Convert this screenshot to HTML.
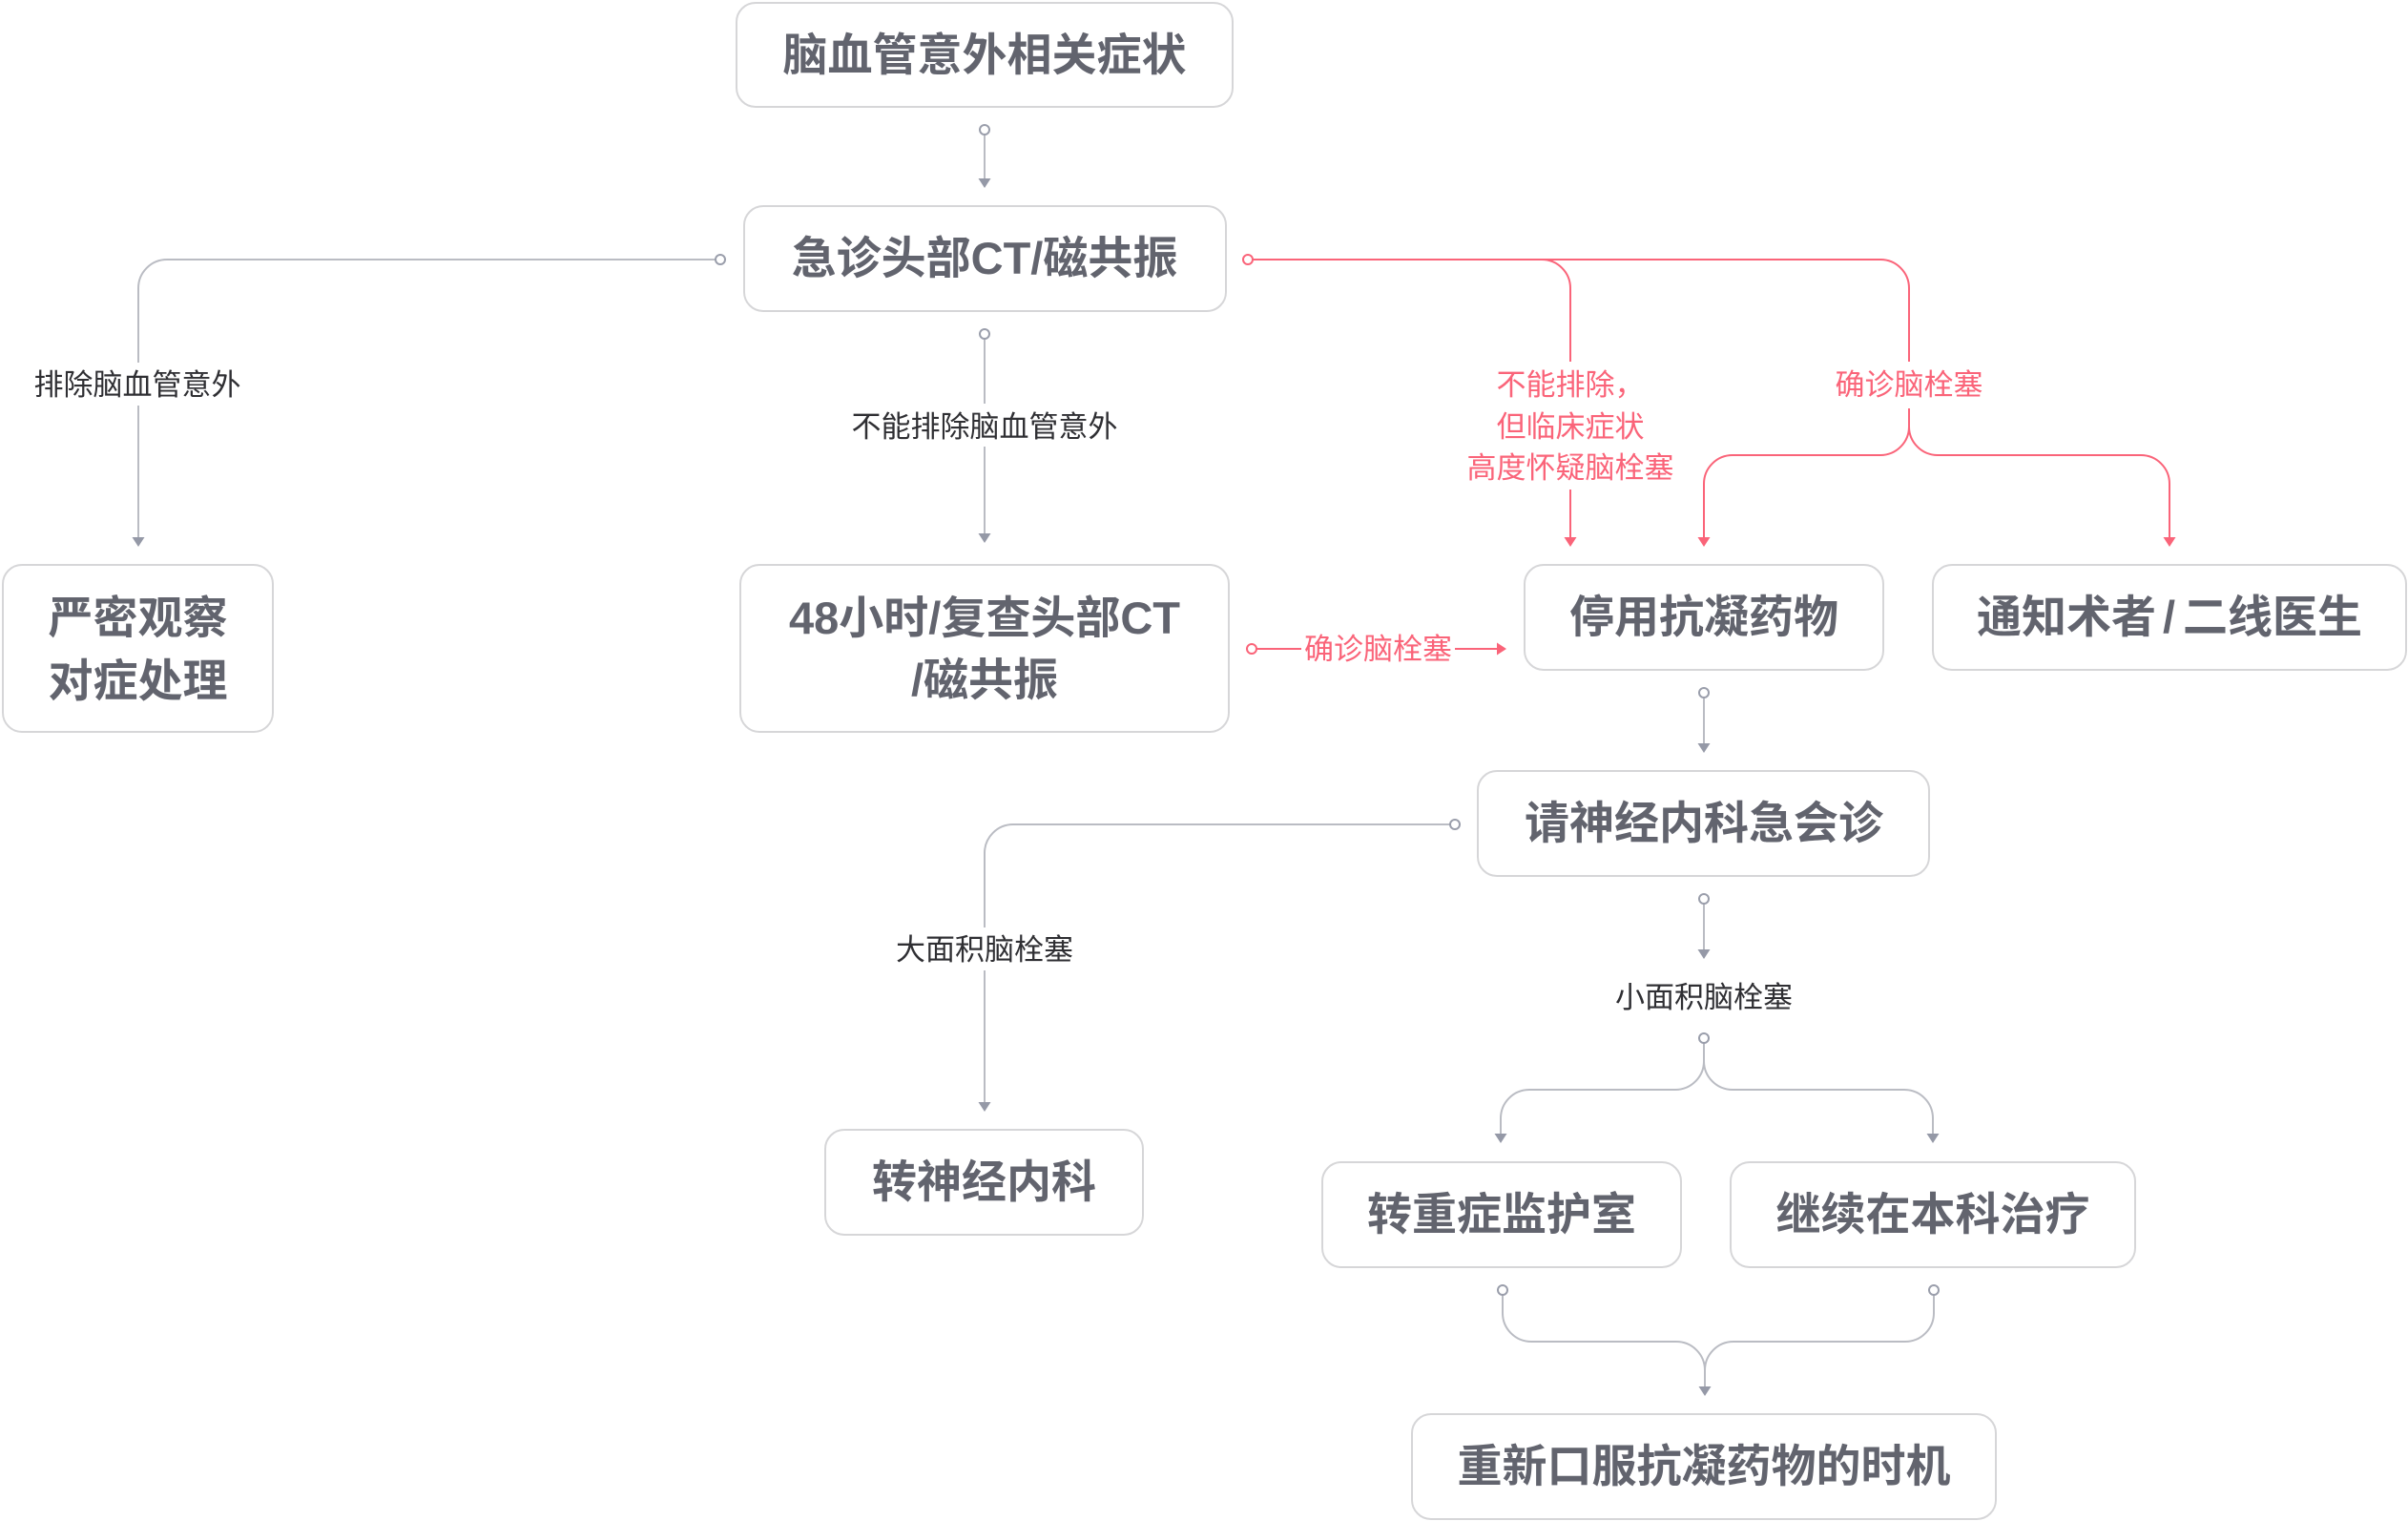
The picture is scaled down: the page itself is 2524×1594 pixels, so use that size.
<!DOCTYPE html>
<html lang="zh">
<head>
<meta charset="utf-8">
<style>
  html, body { margin: 0; padding: 0; background: #ffffff; }
  body { width: 2524px; height: 1594px; overflow: hidden; }
  svg { display: block; }
  .box { fill: #ffffff; stroke: #d6d6d8; stroke-width: 2; }
  .bt { font-family: "Liberation Sans", "Noto Sans CJK SC", sans-serif; font-weight: bold; font-size: 47px; fill: #62646e; }
  .lb { font-family: "Liberation Sans", "Noto Sans CJK SC", sans-serif; font-size: 31px; fill: #2f2f33; }
  .rl { font-family: "Liberation Sans", "Noto Sans CJK SC", sans-serif; font-size: 31px; fill: #fa6479; }
  .g { fill: none; stroke: #babcc3; stroke-width: 2; }
  .gc { fill: #ffffff; stroke: #9a9eab; stroke-width: 2; }
  .ga { fill: #9599a7; }
  .r { fill: none; stroke: #fa6479; stroke-width: 2; }
  .rc { fill: #ffffff; stroke: #fa6479; stroke-width: 2; }
  .ra { fill: #fa6479; }
</style>
</head>
<body>
<svg width="2524" height="1594" viewBox="0 0 2524 1594" xmlns="http://www.w3.org/2000/svg">

  <!-- ========== Boxes ========== -->
  <rect class="box" x="772" y="3" width="520" height="109" rx="20"/>
  <rect class="box" x="780" y="216" width="505" height="110" rx="20"/>
  <rect class="box" x="3" y="592" width="283" height="175" rx="20"/>
  <rect class="box" x="776" y="592" width="512" height="175" rx="20"/>
  <rect class="box" x="1598" y="592" width="376" height="110" rx="20"/>
  <rect class="box" x="2026" y="592" width="496" height="110" rx="20"/>
  <rect class="box" x="1549" y="808" width="473" height="110" rx="20"/>
  <rect class="box" x="865" y="1184" width="333" height="110" rx="20"/>
  <rect class="box" x="1386" y="1218" width="376" height="110" rx="20"/>
  <rect class="box" x="1814" y="1218" width="424" height="110" rx="20"/>
  <rect class="box" x="1480" y="1482" width="612" height="110" rx="20"/>

  <!-- ========== Box texts ========== -->
  <text class="bt" x="1032" y="74" text-anchor="middle">脑血管意外相关症状</text>
  <text class="bt" x="1032" y="287" text-anchor="middle">急诊头部CT/磁共振</text>
  <text class="bt" x="144.5" y="664" text-anchor="middle">严密观察</text>
  <text class="bt" x="144.5" y="730" text-anchor="middle">对症处理</text>
  <text class="bt" x="1032" y="664" text-anchor="middle">48小时/复查头部CT</text>
  <text class="bt" x="1032" y="729" text-anchor="middle">/磁共振</text>
  <text class="bt" x="1786" y="663" text-anchor="middle">停用抗凝药物</text>
  <text class="bt" x="2274" y="663" text-anchor="middle">通知术者<tspan dx="7">/</tspan><tspan dx="8">二线医生</tspan></text>
  <text class="bt" x="1786" y="879" text-anchor="middle">请神经内科急会诊</text>
  <text class="bt" x="1031.5" y="1255" text-anchor="middle">转神经内科</text>
  <text class="bt" x="1574" y="1289" text-anchor="middle">转重症监护室</text>
  <text class="bt" x="2026" y="1289" text-anchor="middle">继续在本科治疗</text>
  <text class="bt" x="1786" y="1553" text-anchor="middle">重新口服抗凝药物的时机</text>

  <!-- ========== Grey connectors ========== -->
  <!-- A: box1 -> box2 -->
  <path class="g" d="M1032,141 V188"/>
  <circle class="gc" cx="1032" cy="136" r="5"/>
  <polygon class="ga" points="1025.5,187 1038.5,187 1032,197"/>

  <!-- B: box2 -> box3 -->
  <path class="g" d="M750,272 H175 A30,30 0 0 0 145,302 V380"/>
  <path class="g" d="M145,425 V564"/>
  <circle class="gc" cx="755" cy="272" r="5"/>
  <polygon class="ga" points="138.5,563 151.5,563 145,573"/>
  <text class="lb" x="144" y="414" text-anchor="middle">排除脑血管意外</text>

  <!-- C: box2 -> box4 -->
  <path class="g" d="M1032,355 V423"/>
  <path class="g" d="M1032,468 V559"/>
  <circle class="gc" cx="1032" cy="350" r="5"/>
  <polygon class="ga" points="1025.5,559 1038.5,559 1032,569"/>
  <text class="lb" x="1032" y="458" text-anchor="middle">不能排除脑血管意外</text>

  <!-- D: box5 -> box7 -->
  <path class="g" d="M1786,731 V780"/>
  <circle class="gc" cx="1786" cy="726" r="5"/>
  <polygon class="ga" points="1779.5,779 1792.5,779 1786,789"/>

  <!-- E: box7 -> box8 -->
  <path class="g" d="M1520,864 H1062 A30,30 0 0 0 1032,894 V972"/>
  <path class="g" d="M1032,1017 V1156"/>
  <circle class="gc" cx="1525" cy="864" r="5"/>
  <polygon class="ga" points="1025.5,1155 1038.5,1155 1032,1165"/>
  <text class="lb" x="1032" y="1006" text-anchor="middle">大面积脑栓塞</text>

  <!-- F: box7 -> small area -> box9 / box10 -->
  <path class="g" d="M1786,947 V996"/>
  <circle class="gc" cx="1786" cy="942" r="5"/>
  <polygon class="ga" points="1779.5,995 1792.5,995 1786,1005"/>
  <text class="lb" x="1786" y="1056" text-anchor="middle">小面积脑栓塞</text>
  <path class="g" d="M1786,1093 V1112 A30,30 0 0 1 1756,1142 H1603 A30,30 0 0 0 1573,1172 V1189"/>
  <path class="g" d="M1786,1112 A30,30 0 0 0 1816,1142 H1996 A30,30 0 0 1 2026,1172 V1189"/>
  <circle class="gc" cx="1786" cy="1088" r="5"/>
  <polygon class="ga" points="1566.5,1188 1579.5,1188 1573,1198"/>
  <polygon class="ga" points="2019.5,1188 2032.5,1188 2026,1198"/>

  <!-- G: box9 / box10 -> box11 -->
  <path class="g" d="M1575,1357 V1376 A30,30 0 0 0 1605,1406 H1757 A30,30 0 0 1 1787,1436 V1454"/>
  <path class="g" d="M2027,1357 V1376 A30,30 0 0 1 1997,1406 H1817 A30,30 0 0 0 1787,1436"/>
  <circle class="gc" cx="1575" cy="1352" r="5"/>
  <circle class="gc" cx="2027" cy="1352" r="5"/>
  <polygon class="ga" points="1780.5,1453 1793.5,1453 1787,1463"/>

  <!-- ========== Red connectors ========== -->
  <!-- H: box2 right -> box5 / box6 -->
  <path class="r" d="M1313,272 H1971 A30,30 0 0 1 2001,302 V379"/>
  <path class="r" d="M1616,272 A30,30 0 0 1 1646,302 V379"/>
  <path class="r" d="M1646,513 V564"/>
  <circle class="rc" cx="1308" cy="272" r="5"/>
  <polygon class="ra" points="1639.5,563 1652.5,563 1646,573"/>
  <text class="rl" x="1646" y="414" text-anchor="middle">不能排除，</text>
  <text class="rl" x="1646" y="458" text-anchor="middle">但临床症状</text>
  <text class="rl" x="1646" y="501" text-anchor="middle">高度怀疑脑栓塞</text>

  <text class="rl" x="2001" y="414" text-anchor="middle">确诊脑栓塞</text>
  <path class="r" d="M2001,428 V447 A30,30 0 0 1 1971,477 H1816 A30,30 0 0 0 1786,507 V564"/>
  <path class="r" d="M2001,447 A30,30 0 0 0 2031,477 H2244 A30,30 0 0 1 2274,507 V564"/>
  <polygon class="ra" points="1779.5,563 1792.5,563 1786,573"/>
  <polygon class="ra" points="2267.5,563 2280.5,563 2274,573"/>

  <!-- I: box4 right -> box5 -->
  <path class="r" d="M1317,680 H1364"/>
  <path class="r" d="M1525,680 H1570"/>
  <circle class="rc" cx="1312" cy="680" r="5"/>
  <polygon class="ra" points="1569,673.5 1569,686.5 1579,680"/>
  <text class="rl" x="1444.5" y="691" text-anchor="middle">确诊脑栓塞</text>

</svg>
</body>
</html>
